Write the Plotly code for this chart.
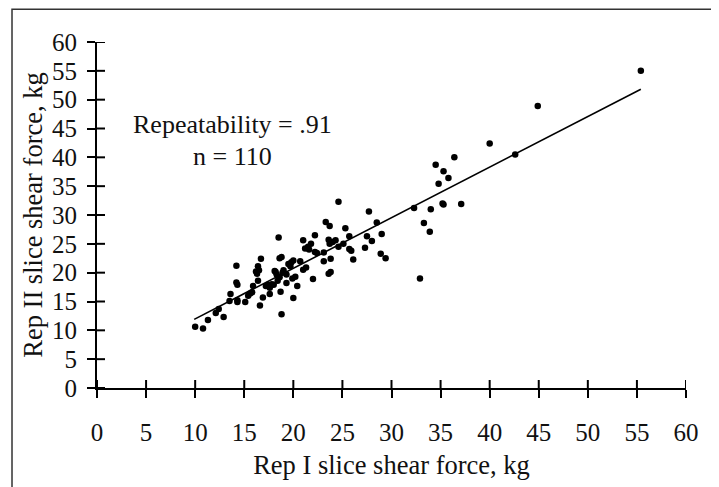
import plotly.graph_objects as go

# Rep I (x) and Rep II (y) slice shear force, kg
rep1 = [55.4, 44.9, 40.0, 42.6, 36.4, 34.5, 35.3, 35.8, 34.8, 35.2, 35.3, 37.1, 32.3, 34.0,
        33.3, 33.9, 32.9, 27.7, 24.6, 23.3, 23.7, 25.3, 28.5, 22.2, 18.5, 21.0, 23.6, 24.3,
        25.7, 27.5, 28.0, 29.0, 21.8, 23.7, 24.6, 25.1, 21.2, 21.5, 22.2, 23.1, 25.7, 25.9,
        27.3, 26.1, 28.9, 29.4, 23.8, 23.1, 20.7, 20.0, 19.5, 19.7, 18.8, 18.6, 16.7, 16.4,
        14.2, 21.3, 21.0, 23.6, 23.8, 22.0, 16.2, 16.3, 18.1, 18.3, 18.9, 18.6, 18.4, 19.3,
        19.9, 19.3, 20.4, 16.4, 15.9, 17.2, 17.6, 18.0, 14.2, 14.3, 17.6, 18.7, 16.9, 20.0,
        15.6, 15.4, 13.6, 13.5, 14.3, 14.3, 15.1, 16.6, 18.8, 12.4, 12.1, 12.9, 11.3, 10.0,
        10.8, 19.8, 20.2, 17.8, 21.6, 24.0, 15.8, 19.0, 22.4, 18.2, 17.4, 16.5]
rep2 = [55.0, 48.9, 42.4, 40.5, 40.0, 38.7, 37.6, 36.4, 35.4, 32.0, 31.8, 31.9, 31.2, 31.0,
        28.6, 27.1, 19.0, 30.6, 32.3, 28.8, 28.1, 27.7, 28.7, 26.5, 26.1, 25.6, 25.7, 25.6,
        26.3, 26.3, 25.5, 26.7, 25.0, 25.0, 24.5, 25.0, 24.2, 24.5, 23.6, 23.5, 24.1, 23.8,
        24.3, 22.3, 23.3, 22.5, 22.4, 22.0, 22.0, 22.1, 21.5, 21.1, 22.7, 22.5, 22.4, 21.1,
        21.2, 20.9, 20.5, 19.8, 20.1, 18.9, 20.2, 19.8, 20.3, 19.7, 20.0, 19.2, 18.6, 19.7,
        19.0, 18.2, 17.7, 18.6, 17.7, 17.7, 17.4, 17.9, 18.3, 17.9, 16.3, 16.7, 15.7, 15.6,
        16.4, 16.0, 16.3, 15.1, 15.2, 14.9, 14.9, 14.3, 12.8, 13.7, 13.0, 12.3, 11.8, 10.6,
        10.3, 21.8, 19.3, 18.0, 24.0, 25.3, 16.6, 20.4, 23.4, 20.1, 17.9, 20.4]

# Fitted regression line
fit_x = [9.9, 55.4]
fit_slope = 0.877
fit_intercept = 3.22
fit_y = [fit_slope * v + fit_intercept for v in fit_x]

tick_vals = list(range(0, 61, 5))
tick_text = [str(v) for v in tick_vals]

FONT = "Liberation Serif"
TXT = "#111111"

fig = go.Figure()
fig.add_trace(go.Scatter(x=rep1, y=rep2, mode="markers",
                         marker=dict(color="black", size=6.5), showlegend=False))
fig.add_trace(go.Scatter(x=fit_x, y=fit_y, mode="lines",
                         line=dict(color="black", width=1.6), showlegend=False,
                         hoverinfo="skip"))

axis_common = dict(range=[0, 60], tickvals=tick_vals, ticktext=tick_text,
                   showgrid=False, zeroline=False, tickcolor="black", tickwidth=2,
                   ticklen=8, ticks="outside", showline=True,
                   linecolor="black", linewidth=2,
                   tickfont=dict(family=FONT, size=25, color=TXT))

# inner half of the crossing tick marks
shapes = []
for v in tick_vals:
    shapes.append(dict(type="line", xref="paper", yref="y", xsizemode="pixel",
                       xanchor=0, x0=0, x1=8, y0=v, y1=v,
                       line=dict(color="black", width=2)))
    shapes.append(dict(type="line", xref="x", yref="paper", ysizemode="pixel",
                       yanchor=0, y0=0, y1=8, x0=v, x1=v,
                       line=dict(color="black", width=2)))
shapes.append(dict(type="rect", xref="paper", yref="paper",
                   x0=-0.1443, x1=1.0441, y0=-0.35, y1=1.0948,
                   line=dict(color="#333333", width=1.5), fillcolor="rgba(0,0,0,0)"))

fig.update_layout(
    width=711, height=479,
    margin=dict(l=89, r=33, t=34, b=97),
    paper_bgcolor="white", plot_bgcolor="white",
    xaxis=dict(axis_common, ticklabelstandoff=13,
               title=dict(text="Rep I slice shear force, kg",
                          font=dict(family=FONT, size=26.5, color=TXT), standoff=10)),
    yaxis=dict(axis_common, ticklabelstandoff=5,
               title=dict(text="Rep II slice shear force, kg",
                          font=dict(family=FONT, size=26.5, color=TXT), standoff=2)),
    annotations=[
        dict(x=13.8, y=45.7, xref="x", yref="y", text="Repeatability = .91",
             showarrow=False, font=dict(family=FONT, size=26, color=TXT)),
        dict(x=13.8, y=40.2, xref="x", yref="y", text="n = 110",
             showarrow=False, font=dict(family=FONT, size=26, color=TXT)),
    ],
    shapes=shapes,
)

fig.write_html("out.html")
